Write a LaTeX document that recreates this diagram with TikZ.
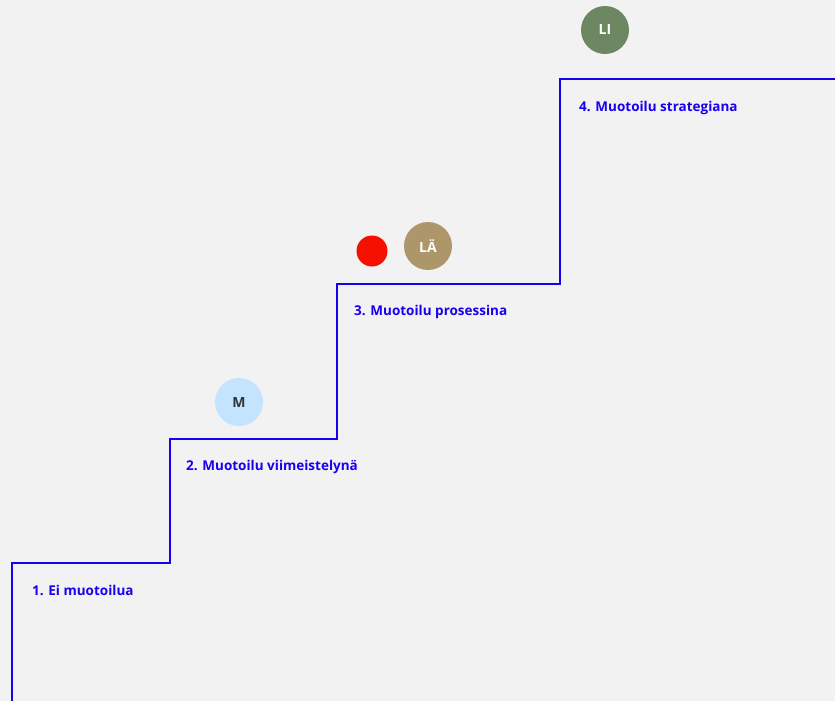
\documentclass[tikz,border=0pt]{standalone}
\usepackage{fontspec}
\setmainfont{Open Sans}
\definecolor{bg}{HTML}{F2F2F2}
\definecolor{stair}{HTML}{1A00F0}
\definecolor{lblue}{HTML}{C4E3FF}
\definecolor{dred}{HTML}{F51000}
\definecolor{tan}{HTML}{AD976A}
\definecolor{sage}{HTML}{6E8763}
\begin{document}
\begin{tikzpicture}[x=1pt,y=-1pt,
  steplabel/.style={anchor=base west,text=stair,font=\fontsize{13.5}{15}\selectfont\bfseries,inner sep=0pt},
  person/.style={circle,minimum size=48pt,inner sep=0pt,font=\fontsize{14}{15}\selectfont\bfseries},
  stairline/.style={draw=stair,line width=1.3pt}]
\fill[bg] (0,0) rectangle (835,701);
\useasboundingbox (0,0) rectangle (835,701);
\coordinate (s0) at (12,701);
\coordinate (s1) at (12,563);
\coordinate (s2) at (170,563);
\coordinate (s3) at (170,439);
\coordinate (s4) at (337,439);
\coordinate (s5) at (337,284);
\coordinate (s6) at (560,284);
\coordinate (s7) at (560,79);
\coordinate (s8) at (835,79);
\draw[stairline] (s0) -- (s1) -- (s2) -- (s3) -- (s4) -- (s5) -- (s6) -- (s7) -- (s8);
\node[steplabel] (l1) at (32,595) {1. Ei muotoilua};
\node[steplabel] (l2) at (186,470) {2. Muotoilu viimeistelynä};
\node[steplabel] (l3) at (354,315) {3. Muotoilu prosessina};
\node[steplabel] (l4) at (579,111) {4. Muotoilu strategiana};
\node[person,fill=lblue,text=black!80] (m) at (239,402) {M};
\node[circle,fill=dred,minimum size=31pt,inner sep=0pt] (r) at (372,251) {};
\node[person,fill=tan,text=white] (la) at (428,246) {LÄ};
\node[person,fill=sage,text=white] (li) at (605,30) {LI};
\end{tikzpicture}
\end{document}
